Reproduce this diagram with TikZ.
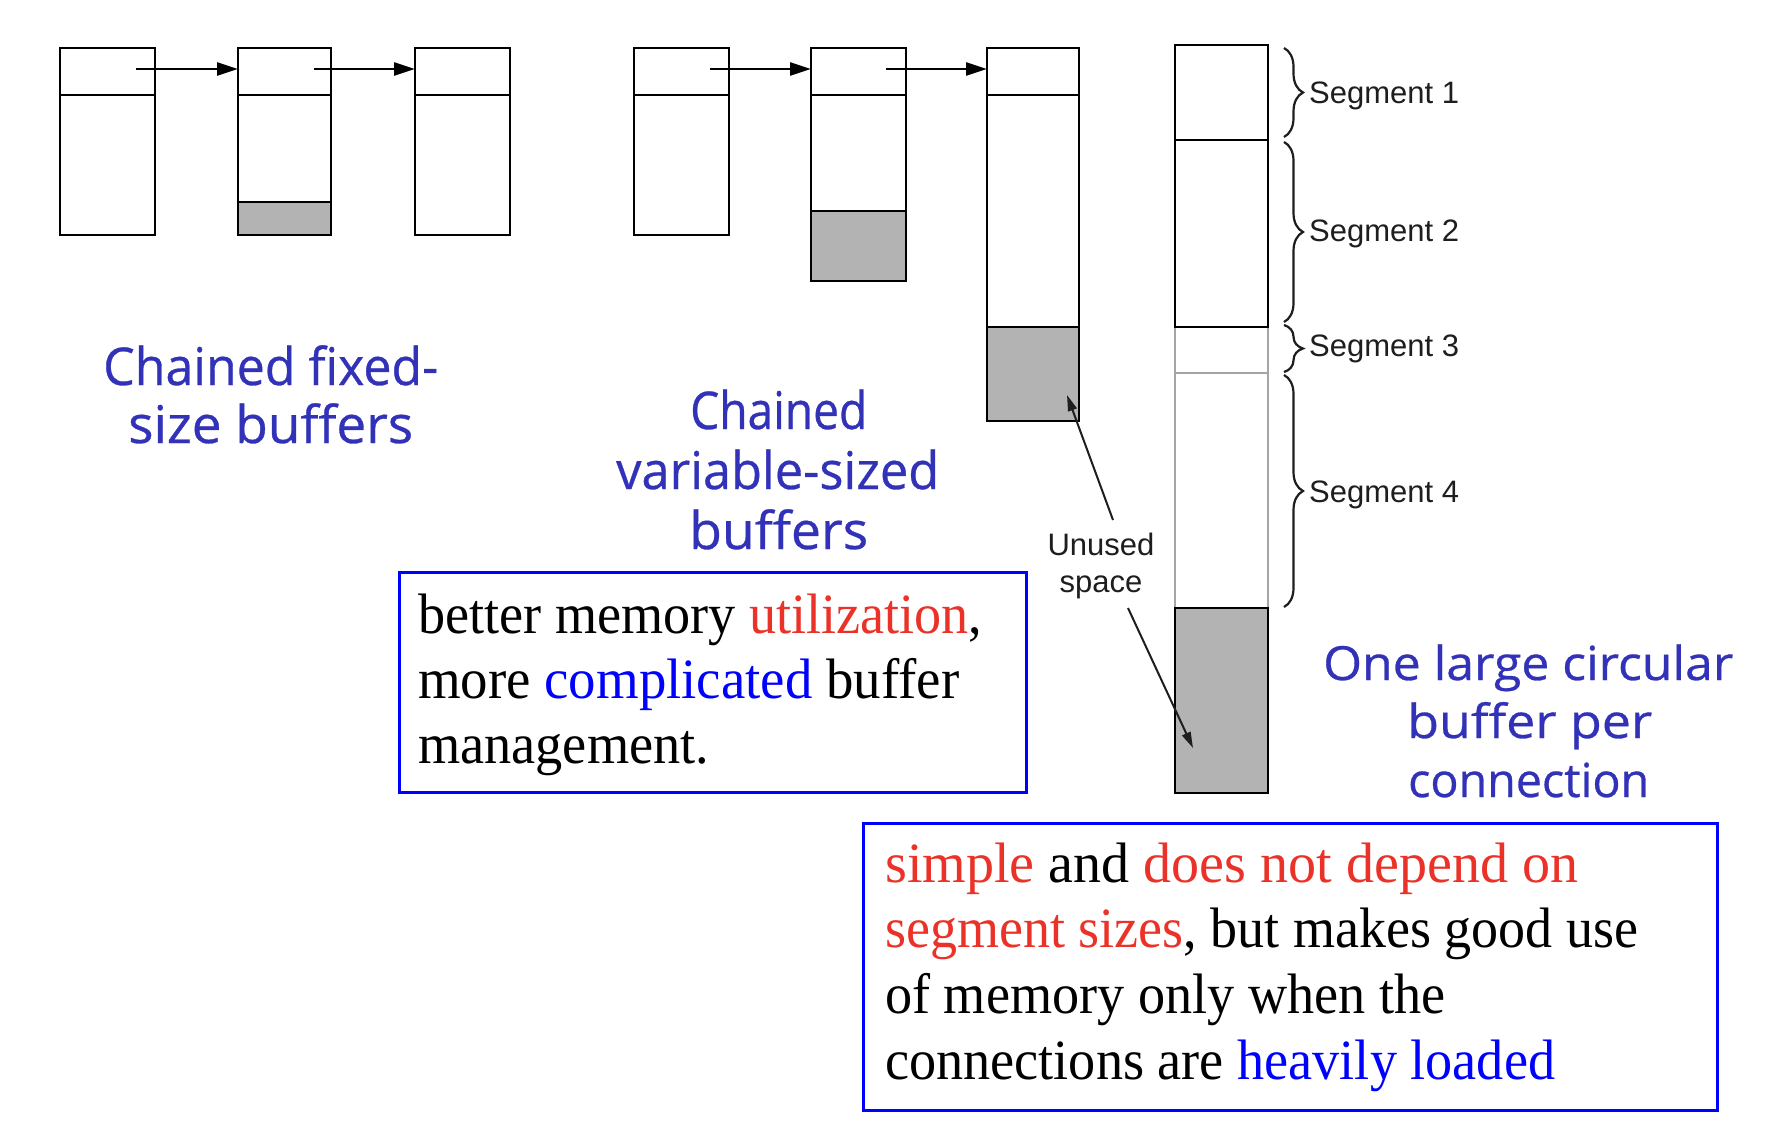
\documentclass[tikz,border=0pt]{standalone}
\usepackage{fontspec}
\usepackage{graphicx}
\setmainfont{Liberation Serif}
\newfontfamily\comicf[FakeBold=0.6]{Open Sans}
\newfontfamily\arialf{Liberation Sans}
\usetikzlibrary{arrows.meta,decorations.pathreplacing}
\definecolor{cblue}{RGB}{50,50,185}
\definecolor{tred}{RGB}{235,50,40}
\definecolor{tblue}{RGB}{0,0,255}
\definecolor{bufgray}{RGB}{179,179,179}
\definecolor{seggray}{RGB}{165,165,165}
\definecolor{labgray}{RGB}{30,30,30}
\tikzset{
  buf/.style={draw=black, line width=2.9pt, inner sep=0pt, outer sep=0pt, anchor=north west},
  divline/.style={draw=black, line width=2.9pt},
  segline/.style={draw=seggray, line width=2.6pt},
  ptr/.style={draw=black, line width=2.6pt, -{Triangle[length=21pt,width=13pt]}},
  uarrow/.style={draw=labgray, line width=2pt, -{Triangle[length=16pt,width=9pt]}},
  segbrace/.style={draw=labgray, line width=2.2pt, decorate, decoration={brace, amplitude=19pt, aspect=0.5}},
  seglab/.style={anchor=base west, inner sep=0pt, text=labgray, font=\arialf\fontsize{31}{37}\selectfont},
  ulab/.style={anchor=base, inner sep=0pt, text=labgray, font=\arialf\fontsize{31}{37}\selectfont},
  clab/.style={anchor=base west, inner sep=0pt, text=cblue, font=\comicf\fontsize{52}{60}\selectfont},
  rlab/.style={anchor=base west, inner sep=0pt, text=cblue, font=\comicf\fontsize{47}{58}\selectfont},
  boxtxt/.style={anchor=base west, inner sep=0pt, text=black, font=\fontsize{57}{65}\selectfont},
  infobox/.style={draw=tblue, line width=3pt, inner sep=0pt, outer sep=0pt, anchor=north west}
}
\begin{document}
\begin{tikzpicture}[x=1pt,y=-1pt]
\useasboundingbox (0,0) rectangle (1786,1148);
\fill[white] (0,0) rectangle (1786,1148);

% ---------- chained fixed-size buffers ----------
\fill[bufgray] (238,202) rectangle (331,235);
\node[buf, minimum width=95pt, minimum height=187pt] (b1) at (60,48) {};
\node[buf, minimum width=93pt, minimum height=187pt] (b2) at (238,48) {};
\node[buf, minimum width=95pt, minimum height=187pt] (b3) at (415,48) {};
\draw[divline] (60,95) -- (155,95);
\draw[divline] (238,95) -- (331,95);
\draw[divline] (415,95) -- (510,95);
\draw[divline] (238,202) -- (331,202);
\coordinate (p1) at (136,69);
\coordinate (p2) at (314,69);
\draw[ptr] (p1) -- (b2.west |- p1);
\draw[ptr] (p2) -- (b3.west |- p2);

% ---------- chained variable-sized buffers ----------
\fill[bufgray] (811,211) rectangle (906,281);
\fill[bufgray] (987,327) rectangle (1079,421);
\node[buf, minimum width=95pt, minimum height=187pt] (b4) at (634,48) {};
\node[buf, minimum width=95pt, minimum height=233pt] (b5) at (811,48) {};
\node[buf, minimum width=92pt, minimum height=373pt] (b6) at (987,48) {};
\draw[divline] (634,95) -- (729,95);
\draw[divline] (811,95) -- (906,95);
\draw[divline] (987,95) -- (1079,95);
\draw[divline] (811,211) -- (906,211);
\draw[divline] (987,327) -- (1079,327);
\coordinate (p3) at (710,69);
\coordinate (p4) at (886,69);
\draw[ptr] (p3) -- (b5.west |- p3);
\draw[ptr] (p4) -- (b6.west |- p4);

% ---------- one large circular buffer ----------
\draw[segline] (1175,327) -- (1175,608);
\draw[segline] (1268,327) -- (1268,608);
\draw[segline] (1175,373) -- (1268,373);
\node[buf, minimum width=93pt, minimum height=282pt] (c12) at (1175,45) {};
\draw[divline] (1175,140) -- (1268,140);
\fill[bufgray] (1175,608) rectangle (1268,793);
\node[buf, minimum width=93pt, minimum height=185pt] (c5) at (1175,608) {};

% braces and segment labels
\draw[segbrace] (1284,48) -- (1284,137);
\draw[segbrace] (1284,142) -- (1284,322);
\draw[segbrace] (1284,325) -- (1284,372);
\draw[segbrace] (1284,375) -- (1284,607);
\node[seglab] (s1) at (1309,103) {Segment 1};
\node[seglab] (s2) at (1309,241) {Segment 2};
\node[seglab] (s3) at (1309,356) {Segment 3};
\node[seglab] (s4) at (1309,502) {Segment 4};

% unused space
\node[ulab] (ua) at (1101,555) {Unused};
\node[ulab] (ub) at (1101,592) {space};
\coordinate (ua0) at (1113,520);
\coordinate (ua1) at (1067,395);
\coordinate (ub0) at (1128,608);
\coordinate (ub1) at (1193,748);
\draw[uarrow] (ua0) -- (ua1);
\draw[uarrow] (ub0) -- (ub1);

% ---------- captions ----------
\node[clab] (t1) at (103,385) {\resizebox{335pt}{\height}{Chained fixed-}};
\node[clab] (t2) at (128,443) {\resizebox{285pt}{\height}{size buffers}};
\node[clab] (t3) at (690,429) {\resizebox{177pt}{\height}{Chained}};
\node[clab] (t4) at (616,489) {\resizebox{323pt}{\height}{variable-sized}};
\node[clab] (t5) at (689,549) {\resizebox{179pt}{\height}{buffers}};
\node[rlab] (t6) at (1323,680) {\resizebox{410pt}{\height}{One large circular}};
\node[rlab] (t7) at (1407,738) {\resizebox{245pt}{\height}{buffer per}};
\node[rlab] (t8) at (1408,797) {\resizebox{241pt}{\height}{connection}};

% ---------- info boxes ----------
\node[infobox, minimum width=627pt, minimum height=220pt] (boxA) at (399,572) {};
\node[boxtxt] (a1) at (418,633) {\resizebox{564pt}{\height}{better memory \textcolor{tred}{utilization},}};
\node[boxtxt] (a2) at (418,698) {\resizebox{541pt}{\height}{more \textcolor{tblue}{complicated} buffer}};
\node[boxtxt] (a3) at (418,763) {\resizebox{291pt}{\height}{management.}};

\node[infobox, minimum width=854pt, minimum height=287pt] (boxB) at (863,823) {};
\node[boxtxt] (c1) at (885,882) {\resizebox{693pt}{\height}{\textcolor{tred}{simple} and \textcolor{tred}{does not depend on}}};
\node[boxtxt] (c2) at (885,947) {\resizebox{753pt}{\height}{\textcolor{tred}{segment sizes}, but makes good use}};
\node[boxtxt] (c3) at (885,1013) {\resizebox{560pt}{\height}{of memory only when the}};
\node[boxtxt] (c4) at (885,1079) {\resizebox{670pt}{\height}{connections are \textcolor{tblue}{heavily loaded}}};
\end{tikzpicture}
\end{document}
